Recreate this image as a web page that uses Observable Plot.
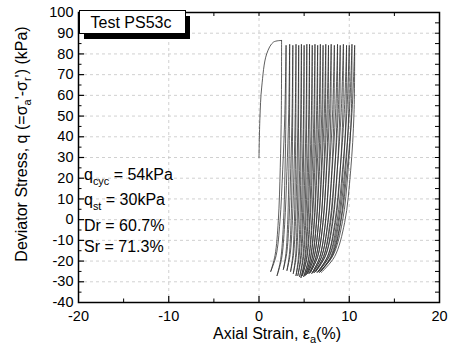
<!DOCTYPE html>
<html>
<head>
<meta charset="utf-8">
<script src="https://cdn.jsdelivr.net/npm/d3@7"></script>
<script src="https://cdn.jsdelivr.net/npm/@observablehq/plot@0.6"></script>
<style>
  html, body { margin: 0; padding: 0; background: #fff; }
  #chart { width: 452px; height: 347px; }
  svg { display: block; }
</style>
</head>
<body>
<div id="chart"></div>
<script>
// ---- data ----
const xMajorTicks = [-20, -10, 0, 10, 20];
const xMinorTicks = [-15, -10, -5, 0, 5, 10, 15];
const yMajorTicks = [-40, -30, -20, -10, 0, 10, 20, 30, 40, 50, 60, 70, 80, 90, 100];
const yMinorTicks = [-35, -30, -25, -20, -15, -10, -5, 0, 5, 10, 15, 20, 25, 30, 35, 40, 45, 50, 55, 60, 65, 70, 75, 80, 85, 90, 95];
const xGrid = [-10, 0, 10];
const yGrid = [-30, -20, -10, 0, 10, 20, 30, 40, 50, 60, 70, 80, 90];

// first (monotonic) loading branch
const initStrain = [0, 0.1, 0.3, 0.85, 1.6, 2.5];
const initStress = [30, 49, 64, 80, 85.7, 86.5];

// cycle peaks and troughs
const peakStrain = [2.5, 3.0, 3.4, 3.75, 4.1, 4.4, 4.7, 5.0, 5.3, 5.6, 5.9, 6.2, 6.5, 6.8, 7.1, 7.4, 7.7, 8.0, 8.35, 8.7, 9.0, 9.35, 9.7, 10.0, 10.3, 10.6];
const peakStress = [86.5, 84, 84.5, 84, 84.5, 84, 84.5, 84, 84.5, 84.5, 84, 84.5, 84, 84.5, 84, 84.5, 84, 84.5, 84, 84.5, 84, 84.5, 84, 84, 84.5, 84];
const troughStrain = [1.3, 2.0, 2.7, 3.1, 3.5, 3.8, 4.1, 4.3, 4.5, 4.65, 4.8, 4.95, 5.1, 5.25, 5.4, 5.55, 5.7, 5.85, 6.0, 6.15, 6.3, 6.45, 6.6, 6.7, 6.8, 6.9];
const troughStress = [-25, -27, -24, -24.5, -25, -26, -27, -27, -27.5, -28, -27, -27.5, -27, -26.5, -26, -26, -25.5, -26, -25.5, -25.5, -25, -25.5, -25, -25.5, -25, -25.5];

// branch shape read from the outer loops (fraction of stress change -> fraction of strain change)
const unloadStressFrac = [0, 0.3, 0.55, 0.78, 0.93, 1];
const unloadStrainFrac = [0, 0.02, 0.12, 0.3, 0.6, 1];
const loadStressFrac = [0, 0.07, 0.22, 0.45, 0.7, 1];
const loadStrainFrac = [0, 0.35, 0.6, 0.78, 0.92, 1];

// ---- build line table ----
const rows = [];
initStrain.forEach((s, i) => rows.push({branch: "init", strain: s, q: initStress[i]}));
for (let i = 0; i < peakStrain.length; i++) {
  unloadStressFrac.forEach((f, k) => rows.push({
    branch: "u" + i,
    strain: peakStrain[i] + (troughStrain[i] - peakStrain[i]) * unloadStrainFrac[k],
    q: peakStress[i] + (troughStress[i] - peakStress[i]) * f
  }));
  if (i + 1 < peakStrain.length) {
    loadStressFrac.forEach((f, k) => rows.push({
      branch: "l" + i,
      strain: troughStrain[i] + (peakStrain[i + 1] - troughStrain[i]) * loadStrainFrac[k],
      q: troughStress[i] + (peakStress[i + 1] - troughStress[i]) * f
    }));
  }
}

const W = 452, H = 347, mL = 78, mR = 13, mT = 12, mB = 45;
const innerW = W - mL - mR, innerH = H - mT - mB;
const FONT = "'Liberation Sans', Arial, Helvetica, sans-serif";

const chart = Plot.plot({
  width: W, height: H,
  marginLeft: mL, marginRight: mR, marginTop: mT, marginBottom: mB,
  style: {fontFamily: FONT, fontSize: "14.5px", color: "#000", background: "#fff"},
  x: {domain: [-20, 20], ticks: xMajorTicks, tickSize: 0, tickPadding: 8, tickFormat: d => String(d), label: null},
  y: {domain: [-40, 100], ticks: yMajorTicks, tickSize: 0, tickPadding: 5, tickFormat: d => String(d), label: null},
  marks: [
    Plot.ruleX(xGrid, {x: d => d, stroke: "#c4c4c4", strokeDasharray: "3,3", strokeWidth: 0.8}),
    Plot.ruleY(yGrid, {y: d => d, stroke: "#c4c4c4", strokeDasharray: "3,3", strokeWidth: 0.8}),
    Plot.line(rows, {x: "strain", y: "q", z: "branch", curve: "catmull-rom", stroke: "#2a2a2a", strokeWidth: 0.75}),
    // inward ticks, bottom and top
    Plot.ruleX(xMajorTicks.slice(1, -1), {x: d => d, insetTop: innerH - 6, stroke: "#000", strokeWidth: 1.2}),
    Plot.ruleX(xMinorTicks.filter(d => !xMajorTicks.includes(d)), {x: d => d, insetTop: innerH - 3.5, stroke: "#000", strokeWidth: 1}),
    Plot.ruleX(xMinorTicks, {x: d => d, insetBottom: innerH - 4, stroke: "#000", strokeWidth: 1}),
    // inward ticks, left and right
    Plot.ruleY(yMajorTicks.slice(1, -1), {y: d => d, insetRight: innerW - 6, stroke: "#000", strokeWidth: 1.2}),
    Plot.ruleY(yMinorTicks.filter(d => !yMajorTicks.includes(d)), {y: d => d, insetRight: innerW - 3.5, stroke: "#000", strokeWidth: 1}),
    Plot.ruleY(yMinorTicks, {y: d => d, insetLeft: innerW - 4, stroke: "#000", strokeWidth: 1}),
    Plot.frame({stroke: "#000", strokeWidth: 1.5})
  ]
});

document.getElementById("chart").appendChild(chart);
const svg = d3.select(chart);

// legend box with shadow
const lg = svg.append("g");
lg.append("rect").attr("x", 84).attr("y", 16).attr("width", 106).attr("height", 23).attr("fill", "#000");
lg.append("rect").attr("x", 79.5).attr("y", 10.5).attr("width", 106).attr("height", 23).attr("fill", "#fff").attr("stroke", "#000").attr("stroke-width", 1);
lg.append("text").attr("x", 90.5).attr("y", 27.5).attr("text-anchor", "start").attr("font-size", 16).attr("font-family", FONT).attr("fill", "#000").text("Test PS53c");

// annotations
function subText(x, y, parts, size) {
  const t = svg.append("text").attr("x", x).attr("y", y).attr("text-anchor", "start").attr("font-size", size).attr("font-family", FONT).attr("fill", "#000");
  parts.forEach(p => {
    const s = t.append("tspan").text(p.t);
    if (p.sub) s.attr("font-size", size * 0.68).attr("dy", 5);
    else if (p.after) s.attr("dy", -5);
  });
  return t;
}
subText(84, 180, [{t: "q"}, {t: "cyc", sub: true}, {t: " = 54kPa", after: true}], 16);
subText(84, 205, [{t: "q"}, {t: "st", sub: true}, {t: " = 30kPa", after: true}], 16);
subText(84, 231, [{t: "Dr = 60.7%"}], 16);
subText(84, 252, [{t: "Sr = 71.3%"}], 16);

// axis titles
const xt = svg.append("text").attr("x", 277).attr("y", 339).attr("text-anchor", "middle").attr("font-size", 16).attr("font-family", FONT).attr("fill", "#000");
xt.append("tspan").text("Axial Strain, ε");
xt.append("tspan").text("a").attr("font-size", 11).attr("dy", 4);
xt.append("tspan").text("(%)").attr("dy", -4);

const yt = svg.append("text").attr("transform", "translate(27,144) rotate(-90)").attr("text-anchor", "middle").attr("font-size", 16).attr("font-family", FONT).attr("fill", "#000");
yt.append("tspan").text("Deviator Stress, q (=σ");
yt.append("tspan").text("a").attr("font-size", 11).attr("dy", 4);
yt.append("tspan").text("'-σ").attr("dy", -4);
yt.append("tspan").text("r").attr("font-size", 11).attr("dy", 4);
yt.append("tspan").text("') (kPa)").attr("dy", -4);
</script>
</body>
</html>
